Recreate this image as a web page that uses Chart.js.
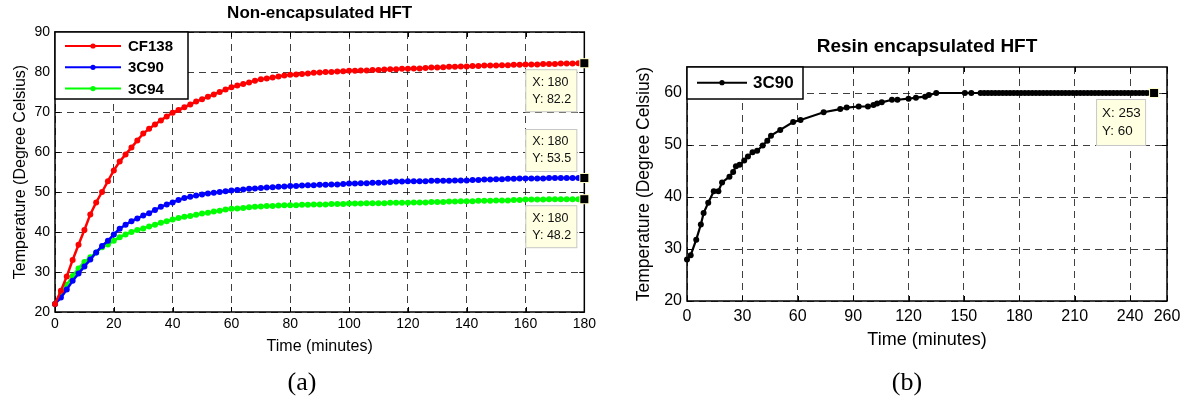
<!DOCTYPE html>
<html>
<head>
<meta charset="utf-8">
<script src="https://cdn.jsdelivr.net/npm/chart.js@4.4.0/dist/chart.umd.min.js"></script>
<style>
    body { margin: 0; background: #fff; width: 1191px; height: 403px; overflow: hidden; position: relative; }
    canvas { position: absolute; top: 0; }
    #leftCanvas { left: 0; }
    #rightCanvas { left: 600px; }
    .panel-label { position: absolute; top: 367px; width: 80px; text-align: center; font-family: "Liberation Serif", "Times New Roman", serif; font-size: 26px; color: #000; }
</style>
</head>
<body>
<canvas id="leftCanvas" width="600" height="403"></canvas>
<canvas id="rightCanvas" width="591" height="403"></canvas>
<div class="panel-label" style="left:262px">(a)</div>
<div class="panel-label" style="left:867px">(b)</div>
<script>
"use strict";

// ---- (a) non-encapsulated HFT ----
const leftTitle = 'Non-encapsulated HFT';
const leftTime = [
    0, 2, 4, 6, 8, 10, 12, 14, 16, 18,
    20, 22, 24, 26, 28, 30, 32, 34, 36, 38,
    40, 42, 44, 46, 48, 50, 52, 54, 56, 58,
    60, 62, 64, 66, 68, 70, 72, 74, 76, 78,
    80, 82, 84, 86, 88, 90, 92, 94, 96, 98,
    100, 102, 104, 106, 108, 110, 112, 114, 116, 118,
    120, 122, 124, 126, 128, 130, 132, 134, 136, 138,
    140, 142, 144, 146, 148, 150, 152, 154, 156, 158,
    160, 162, 164, 166, 168, 170, 172, 174, 176, 178,
    180
];
const cf138Temp = [
    22.0, 25.3, 28.9, 33.0, 36.8, 40.5, 44.4, 47.4, 50.0, 52.7,
    55.4, 57.6, 59.4, 61.1, 62.9, 64.6, 65.8, 66.9, 67.9, 68.9,
    69.8, 70.5, 71.2, 71.9, 72.6, 73.2, 73.8, 74.4, 75.0, 75.6,
    76.2, 76.6, 77.0, 77.4, 77.8, 78.2, 78.4, 78.6, 78.9, 79.1,
    79.3, 79.4, 79.5, 79.6, 79.8, 79.9, 80.0, 80.0, 80.1, 80.2,
    80.3, 80.3, 80.4, 80.4, 80.5, 80.5, 80.6, 80.7, 80.7, 80.8,
    80.8, 80.9, 80.9, 81.0, 81.1, 81.1, 81.2, 81.3, 81.3, 81.4,
    81.4, 81.5, 81.5, 81.6, 81.6, 81.6, 81.7, 81.7, 81.8, 81.8,
    81.9, 81.9, 81.9, 82.0, 82.0, 82.0, 82.1, 82.1, 82.1, 82.2,
    82.2
];
const c3c90Temp = [
    22.0, 23.6, 25.6, 27.8, 29.6, 31.4, 33.1, 34.9, 36.5, 37.8,
    39.4, 40.8, 41.8, 42.7, 43.4, 44.1, 44.7, 45.5, 46.3, 46.9,
    47.4, 48.0, 48.5, 48.8, 49.1, 49.4, 49.6, 49.8, 50.0, 50.2,
    50.4, 50.5, 50.6, 50.8, 50.9, 51.0, 51.1, 51.2, 51.3, 51.4,
    51.5, 51.5, 51.6, 51.7, 51.7, 51.8, 51.8, 51.9, 51.9, 52.0,
    52.1, 52.1, 52.2, 52.2, 52.3, 52.3, 52.4, 52.5, 52.6, 52.6,
    52.7, 52.7, 52.7, 52.7, 52.8, 52.8, 52.8, 52.8, 52.9, 52.9,
    52.9, 53.0, 53.0, 53.1, 53.1, 53.2, 53.2, 53.3, 53.3, 53.4,
    53.4, 53.4, 53.4, 53.4, 53.5, 53.5, 53.5, 53.5, 53.5, 53.5,
    53.5
];
const c3c94Temp = [
    22.0, 24.8, 26.8, 29.0, 30.9, 32.5, 33.7, 34.9, 36.2, 36.9,
    37.8, 38.7, 39.4, 40.0, 40.5, 40.9, 41.4, 41.8, 42.3, 42.7,
    43.1, 43.5, 43.8, 44.0, 44.3, 44.6, 44.8, 45.1, 45.3, 45.6,
    45.8, 45.9, 46.0, 46.2, 46.3, 46.4, 46.5, 46.5, 46.6, 46.7,
    46.7, 46.7, 46.8, 46.8, 46.9, 46.9, 46.9, 47.0, 47.0, 47.0,
    47.1, 47.1, 47.1, 47.2, 47.2, 47.2, 47.2, 47.3, 47.3, 47.3,
    47.3, 47.4, 47.4, 47.4, 47.5, 47.5, 47.5, 47.6, 47.6, 47.7,
    47.7, 47.7, 47.8, 47.8, 47.8, 47.9, 47.9, 47.9, 48.0, 48.0,
    48.1, 48.1, 48.1, 48.1, 48.2, 48.2, 48.2, 48.2, 48.2, 48.2,
    48.2
];
const leftXTicks = [0, 20, 40, 60, 80, 100, 120, 140, 160, 180];
const leftYTicks = [20, 30, 40, 50, 60, 70, 80, 90];

// ---- (b) resin encapsulated HFT ----
const rightTitle = 'Resin encapsulated HFT';
const resinTime = [
    0, 2, 5, 7.5, 9, 11.5, 14.5, 17, 19, 23,
    25, 26.5, 28.5, 31, 33, 35.5, 38, 41, 43.5, 45.5,
    50.5, 57.5, 61.5, 74, 83, 86.5, 93, 98, 101, 103,
    105.5, 111, 114, 120, 124, 129, 131, 135, 150.5, 154,
    159, 161, 163, 165, 167, 169, 171, 173, 175, 177,
    179, 181, 183, 185, 187, 189, 191, 193, 195, 197,
    199, 201, 203, 205, 207, 209, 211, 213, 215, 217,
    219, 221, 223, 225, 227, 229, 231, 233, 235, 237,
    239, 241, 243, 245, 247, 249, 251, 253
];
const resinTemp = [
    28.0, 28.8, 31.8, 34.7, 36.9, 38.9, 41.1, 41.1, 42.8, 43.9,
    44.8, 45.9, 46.2, 47.0, 47.8, 48.6, 48.9, 49.9, 50.8, 51.8,
    52.9, 54.4, 54.8, 56.3, 56.9, 57.2, 57.4, 57.4, 57.7, 58.0,
    58.2, 58.7, 58.7, 58.9, 59.1, 59.3, 59.6, 60, 60, 60,
    60, 60, 60, 60, 60, 60, 60, 60, 60, 60,
    60, 60, 60, 60, 60, 60, 60, 60, 60, 60,
    60, 60, 60, 60, 60, 60, 60, 60, 60, 60,
    60, 60, 60, 60, 60, 60, 60, 60, 60, 60,
    60, 60, 60, 60, 60, 60, 60, 60
];
const rightXTicks = [0, 30, 60, 90, 120, 150, 180, 210, 240, 260];
const rightYTicks = [20, 30, 40, 50, 60];

const FONT = '"Liberation Sans", Arial, Helvetica, sans-serif';
const GRID = 'rgba(0, 0, 0, 0.75)';

const toPoints = (xs, ys) => xs.map((x, i) => ({ x: x, y: ys[i] }));

// box round the plot, inward ticks on all four sides, bold title
const matlabAxes = {
    id: 'matlabAxes',
    beforeDatasetsDraw(chart, args, opts) {
        const { ctx, chartArea: a, scales } = chart;
        const len = opts.tickLen;
        ctx.save();
        ctx.strokeStyle = '#000';
        ctx.lineWidth = 1;
        ctx.beginPath();
        scales.x.ticks.forEach((t) => {
            const px = Math.round(scales.x.getPixelForValue(t.value)) + 0.5;
            ctx.moveTo(px, a.bottom); ctx.lineTo(px, a.bottom - len);
            ctx.moveTo(px, a.top); ctx.lineTo(px, a.top + len);
        });
        scales.y.ticks.forEach((t) => {
            const py = Math.round(scales.y.getPixelForValue(t.value)) + 0.5;
            ctx.moveTo(a.left, py); ctx.lineTo(a.left + len, py);
            ctx.moveTo(a.right, py); ctx.lineTo(a.right - len, py);
        });
        ctx.stroke();
        ctx.lineWidth = 1.5;
        ctx.strokeRect(a.left, a.top, a.right - a.left, a.bottom - a.top);

        ctx.fillStyle = '#000';
        ctx.font = `bold ${opts.titleSize}px ${FONT}`;
        ctx.textAlign = 'center';
        ctx.textBaseline = 'middle';
        ctx.fillText(opts.title, (a.left + a.right) / 2, opts.titleY);
        ctx.restore();
    }
};

// matlab style legend: white box, line + marker sample, bold label
const boxLegend = {
    id: 'boxLegend',
    afterDatasetsDraw(chart, args, opts) {
        const { ctx, chartArea: a } = chart;
        const x0 = a.left, y0 = a.top;
        ctx.save();
        ctx.fillStyle = '#fff';
        ctx.fillRect(x0, y0, opts.w, opts.h);
        ctx.strokeStyle = '#000';
        ctx.lineWidth = 1.5;
        ctx.strokeRect(x0, y0, opts.w, opts.h);
        chart.data.datasets.forEach((ds, i) => {
            const y = y0 + opts.firstRow + i * opts.rowH;
            ctx.strokeStyle = ds.borderColor;
            ctx.lineWidth = 2;
            ctx.beginPath();
            ctx.moveTo(x0 + opts.lineFrom, y);
            ctx.lineTo(x0 + opts.lineTo, y);
            ctx.stroke();
            ctx.fillStyle = ds.backgroundColor;
            ctx.beginPath();
            ctx.arc(x0 + (opts.lineFrom + opts.lineTo) / 2, y, 2.6, 0, Math.PI * 2);
            ctx.fill();
            ctx.fillStyle = '#000';
            ctx.font = `bold ${opts.fontSize}px ${FONT}`;
            ctx.textAlign = 'left';
            ctx.textBaseline = 'middle';
            ctx.fillText(ds.label, x0 + opts.textX, y + 1);
        });
        ctx.restore();
    }
};

// data tips on the last point of a series
const dataTips = {
    id: 'dataTips',
    afterDatasetsDraw(chart, args, opts) {
        const { ctx, scales } = chart;
        ctx.save();
        opts.tips.forEach((tip) => {
            const data = chart.data.datasets[tip.ds].data;
            const pt = data[data.length - 1];
            const px = scales.x.getPixelForValue(pt.x);
            const py = scales.y.getPixelForValue(pt.y);
            const right = px - opts.dx;
            const top = tip.place === 'above' ? py - opts.dy - opts.h : py + opts.dy;
            const left = right - opts.w;

            ctx.fillStyle = '#ffffe1';
            ctx.fillRect(left, top, opts.w, opts.h);
            ctx.strokeStyle = '#c8c8c8';
            ctx.lineWidth = 1;
            ctx.strokeRect(left + 0.5, top + 0.5, opts.w - 1, opts.h - 1);

            ctx.fillStyle = '#111';
            ctx.font = `${opts.fontSize}px ${FONT}`;
            ctx.textAlign = 'left';
            ctx.textBaseline = 'middle';
            ctx.fillText(`X: ${pt.x}`, left + opts.textX, top + opts.line1);
            ctx.fillText(`Y: ${pt.y}`, left + opts.textX, top + opts.line2);

            ctx.fillStyle = '#ffffc8';
            ctx.fillRect(px - 5, py - 5, 10, 10);
            ctx.fillStyle = '#000';
            ctx.fillRect(px - 4, py - 4, 8, 8);
        });
        ctx.restore();
    }
};

const makeAxis = (cfg) => ({
    type: 'linear',
    min: cfg.min,
    max: cfg.max,
    afterFit: (s) => {
        if (cfg.width) s.width = cfg.width;
        if (cfg.height) s.height = cfg.height;
    },
    afterBuildTicks: (s) => {
        s.ticks = cfg.ticks.map((v) => ({ value: v }));
    },
    grid: { color: GRID, lineWidth: 1, drawTicks: false },
    border: { display: false, dash: [7, 5] },
    ticks: {
        color: '#000',
        font: { family: FONT, size: cfg.tickSize },
        padding: cfg.tickPad,
        maxRotation: 0,
        autoSkip: false
    },
    title: {
        display: true,
        text: cfg.title,
        color: '#000',
        font: { family: FONT, size: cfg.titleSize },
        padding: cfg.titlePad
    }
});

const seriesStyle = (label, color, width, radius) => ({
    label: label,
    borderColor: color,
    backgroundColor: color,
    borderWidth: width,
    pointRadius: radius,
    pointBorderWidth: 0,
    pointHoverRadius: radius,
    tension: 0,
    clip: false
});

// left panel
new Chart(document.getElementById('leftCanvas'), {
    type: 'line',
    data: {
        datasets: [
            Object.assign(seriesStyle('CF138', '#ff0000', 2.5, 3), { data: toPoints(leftTime, cf138Temp) }),
            Object.assign(seriesStyle('3C90', '#0000ff', 2.5, 3), { data: toPoints(leftTime, c3c90Temp) }),
            Object.assign(seriesStyle('3C94', '#00ff00', 2.5, 3), { data: toPoints(leftTime, c3c94Temp) })
        ]
    },
    options: {
        responsive: false,
        animation: false,
        events: [],
        layout: { padding: { top: 32, right: 9, left: 0, bottom: 0 } },
        scales: {
            x: makeAxis({ min: 0, max: 180, ticks: leftXTicks, height: 91, tickSize: 14, tickPad: 4,
                title: 'Time (minutes)', titleSize: 16, titlePad: { top: 0, bottom: 47 } }),
            y: makeAxis({ min: 20, max: 90, ticks: leftYTicks, width: 55, tickSize: 14, tickPad: 5,
                title: 'Temperature (Degree Celsius)', titleSize: 16, titlePad: { top: 11, bottom: 0 } })
        },
        plugins: {
            legend: { display: false },
            tooltip: { enabled: false },
            matlabAxes: { title: leftTitle, titleSize: 17, titleY: 13, tickLen: 5 },
            boxLegend: { w: 133, h: 67, firstRow: 14, rowH: 21.3, lineFrom: 10, lineTo: 66, textX: 73, fontSize: 15 },
            dataTips: {
                w: 52, h: 43, dx: 7, dy: 6, fontSize: 12.5, textX: 7, line1: 13, line2: 30,
                tips: [{ ds: 0, place: 'below' }, { ds: 1, place: 'above' }, { ds: 2, place: 'below' }]
            }
        }
    },
    plugins: [matlabAxes, boxLegend, dataTips]
});

// right panel
new Chart(document.getElementById('rightCanvas'), {
    type: 'line',
    data: {
        datasets: [
            Object.assign(seriesStyle('3C90', '#000000', 2.2, 3), { data: toPoints(resinTime, resinTemp) })
        ]
    },
    options: {
        responsive: false,
        animation: false,
        events: [],
        layout: { padding: { top: 67, right: 24, left: 0, bottom: 0 } },
        scales: {
            x: makeAxis({ min: 0, max: 260, ticks: rightXTicks, height: 102, tickSize: 16, tickPad: 6,
                title: 'Time (minutes)', titleSize: 18, titlePad: { top: 0, bottom: 52 } }),
            y: makeAxis({ min: 20, max: 65, ticks: rightYTicks, width: 87, tickSize: 16, tickPad: 5,
                title: 'Temperature (Degree Celsius)', titleSize: 17.5, titlePad: { top: 34, bottom: 0 } })
        },
        plugins: {
            legend: { display: false },
            tooltip: { enabled: false },
            matlabAxes: { title: rightTitle, titleSize: 19, titleY: 47, tickLen: 5 },
            boxLegend: { w: 116, h: 32, firstRow: 15.7, rowH: 0, lineFrom: 10, lineTo: 60, textX: 66, fontSize: 17 },
            dataTips: {
                w: 50, h: 47, dx: 8, dy: 6, fontSize: 13.4, textX: 6, line1: 14.5, line2: 32,
                tips: [{ ds: 0, place: 'below' }]
            }
        }
    },
    plugins: [matlabAxes, boxLegend, dataTips]
});
</script>
</body>
</html>
